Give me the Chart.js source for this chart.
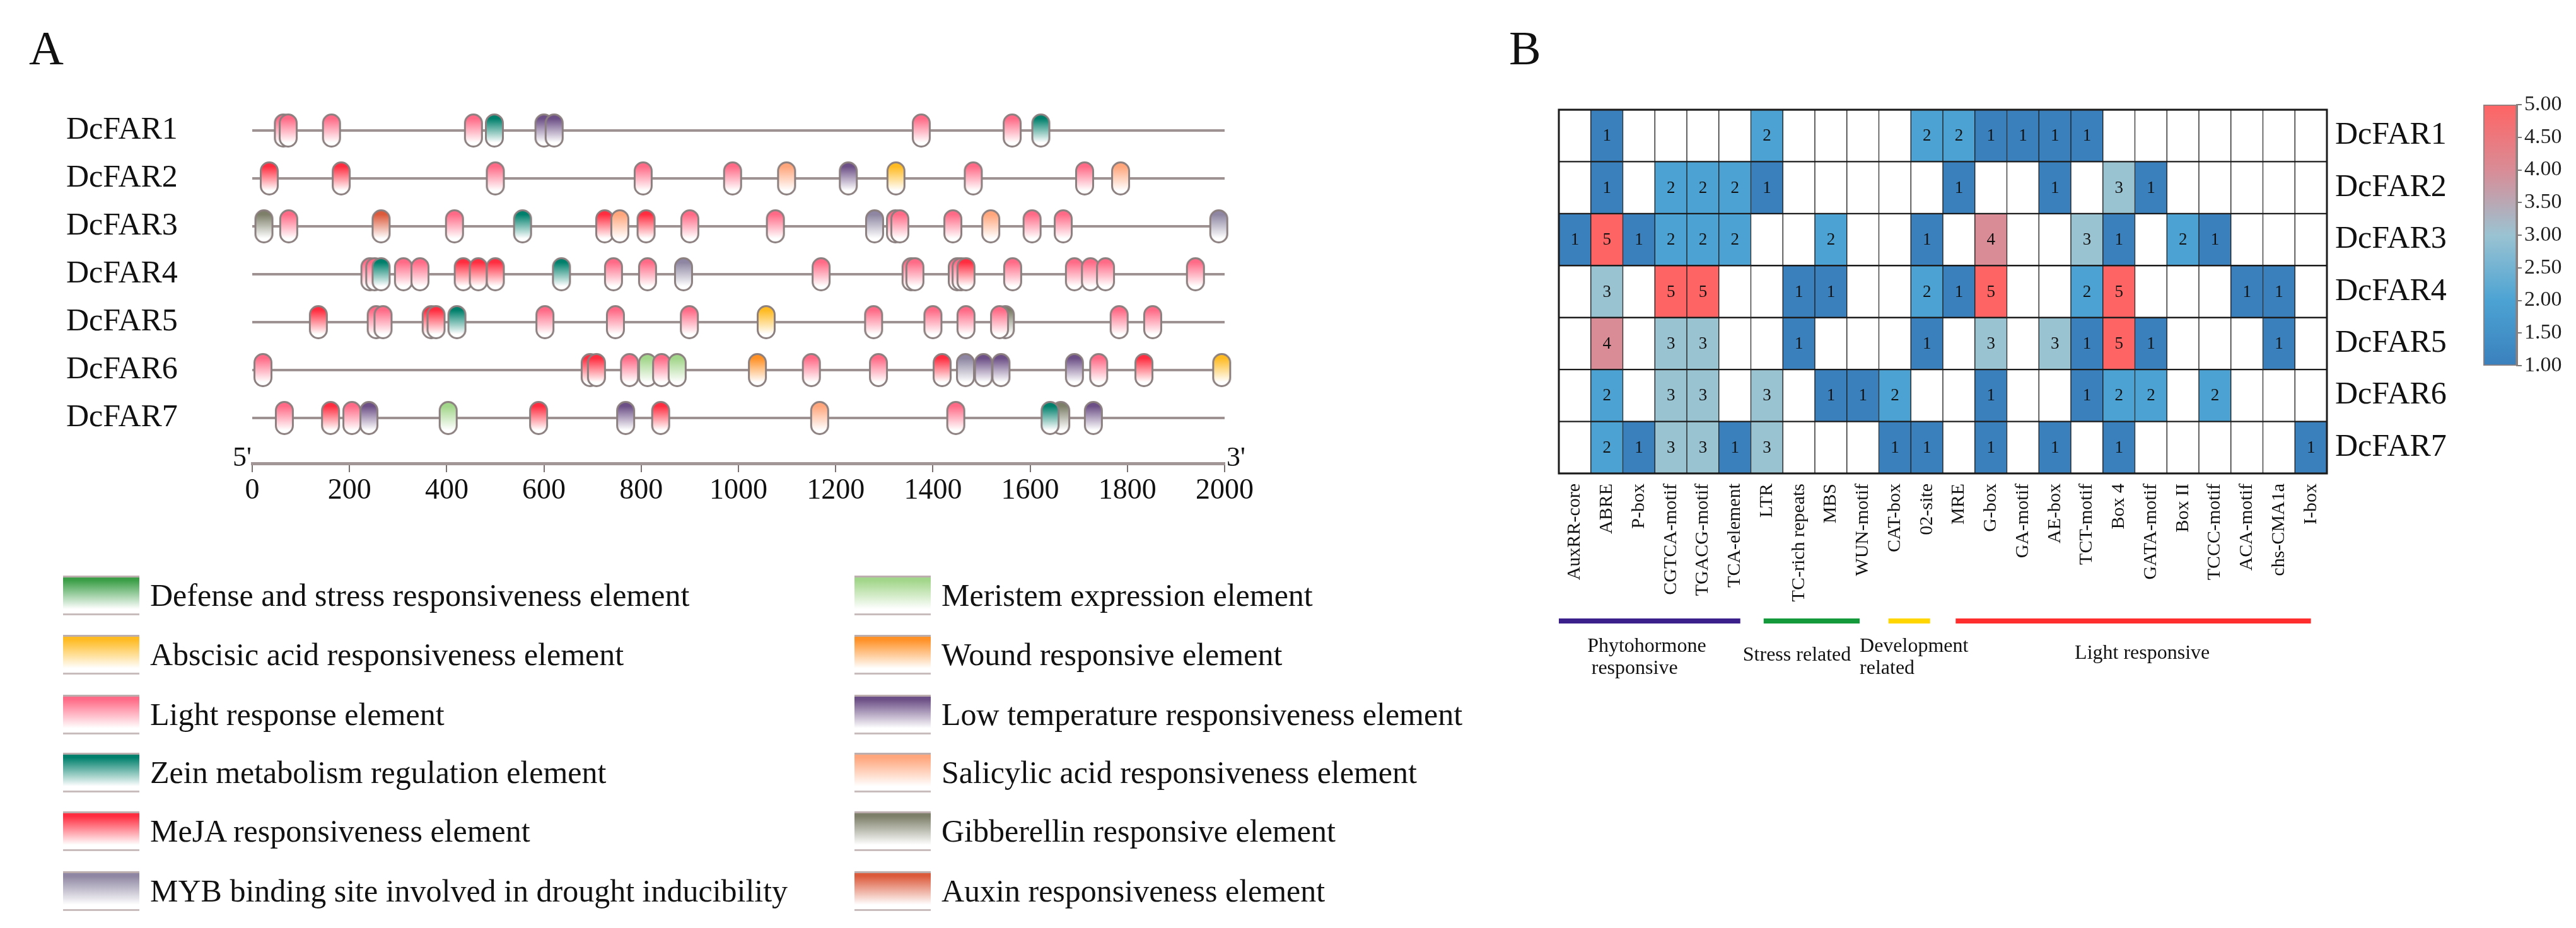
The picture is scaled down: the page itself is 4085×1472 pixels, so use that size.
<!DOCTYPE html>
<html lang="en">
<head>
<meta charset="UTF-8">
<title>DcFAR cis-elements</title>
<script src="https://cdn.jsdelivr.net/npm/chart.js@4.4.0/dist/chart.umd.min.js"></script>
<style>
  body { margin: 0; background: #fff; width: 4085px; height: 1472px; position: relative; overflow: hidden; font-family: 'Liberation Serif', serif; color: #111; }
  canvas { position: absolute; }
  .panel { position: absolute; font-size: 76px; line-height: 76px; }
  .sw { position: absolute; width: 121px; height: 57px; border-top: 3px solid #bcaeae; border-bottom: 3px solid #c8bcbc; }
  .lt { position: absolute; font-size: 50px; line-height: 63px; white-space: nowrap; }
</style>
</head>
<body>
<div class="panel" style="left:46px;top:38px">A</div>
<div class="panel" style="left:2393px;top:38px">B</div>
<canvas id="elements" width="2060" height="830" style="left:0;top:0"></canvas>
<canvas id="heat" width="1600" height="1100" style="left:2300px;top:0"></canvas>
<canvas id="scale" width="185" height="500" style="left:3900px;top:130px"></canvas>
<div id="legend"></div>

<script>
// genes and element positions (bp from 5' end) with element type
const genes = ['DcFAR1', 'DcFAR2', 'DcFAR3', 'DcFAR4', 'DcFAR5', 'DcFAR6', 'DcFAR7'];

const posFAR1 = [64, 74, 163, 455, 498, 600, 621, 1376, 1563, 1622];
const typFAR1 = ['L', 'L', 'L', 'L', 'Z', 'LT', 'LT', 'L', 'L', 'Z'];
const posFAR2 = [35, 183, 500, 804, 988, 1099, 1226, 1324, 1483, 1712, 1786];
const typFAR2 = ['M', 'M', 'L', 'L', 'L', 'SA', 'LT', 'ABA', 'L', 'L', 'SA'];
const posFAR3 = [24, 75, 265, 416, 556, 725, 756, 810, 900, 1076, 1280, 1323, 1332, 1441, 1519, 1604, 1668, 1988];
const typFAR3 = ['GA', 'L', 'AUX', 'L', 'Z', 'M', 'SA', 'M', 'L', 'L', 'MYB', 'L', 'L', 'L', 'SA', 'L', 'L', 'MYB'];
const posFAR4 = [242, 252, 265, 311, 345, 434, 465, 500, 636, 743, 813, 887, 1170, 1355, 1363, 1450, 1458, 1468, 1564, 1691, 1724, 1755, 1940];
const typFAR4 = ['L', 'L', 'Z', 'L', 'L', 'M', 'M', 'M', 'Z', 'L', 'L', 'MYB', 'L', 'L', 'L', 'L', 'L', 'M', 'L', 'L', 'L', 'L', 'L'];
const posFAR5 = [136, 255, 269, 368, 378, 421, 602, 747, 899, 1057, 1278, 1400, 1468, 1549, 1537, 1783, 1852];
const typFAR5 = ['M', 'L', 'L', 'M', 'M', 'Z', 'L', 'L', 'L', 'ABA', 'L', 'L', 'L', 'GA', 'L', 'L', 'L'];
const posFAR6 = [22, 695, 708, 776, 813, 842, 874, 1039, 1150, 1288, 1419, 1467, 1504, 1540, 1691, 1741, 1834, 1994];
const typFAR6 = ['L', 'M', 'M', 'L', 'MER', 'L', 'MER', 'W', 'L', 'L', 'M', 'MYB', 'LT', 'LT', 'LT', 'L', 'M', 'ABA'];
const posFAR7 = [66, 161, 205, 240, 403, 589, 768, 840, 1167, 1447, 1663, 1641, 1730];
const typFAR7 = ['L', 'M', 'L', 'LT', 'MER', 'M', 'LT', 'M', 'SA', 'L', 'GA', 'Z', 'LT'];

const positions = [posFAR1, posFAR2, posFAR3, posFAR4, posFAR5, posFAR6, posFAR7];
const types = [typFAR1, typFAR2, typFAR3, typFAR4, typFAR5, typFAR6, typFAR7];

// heatmap: number of each motif per gene
const motifs = ['AuxRR-core', 'ABRE', 'P-box', 'CGTCA-motif', 'TGACG-motif', 'TCA-element', 'LTR',
  'TC-rich repeats', 'MBS', 'WUN-motif', 'CAT-box', '02-site', 'MRE', 'G-box', 'GA-motif', 'AE-box',
  'TCT-motif', 'Box 4', 'GATA-motif', 'Box II', 'TCCC-motif', 'ACA-motif', 'chs-CMA1a', 'I-box'];
const cntFAR1 = [0, 1, 0, 0, 0, 0, 2, 0, 0, 0, 0, 2, 2, 1, 1, 1, 1, 0, 0, 0, 0, 0, 0, 0];
const cntFAR2 = [0, 1, 0, 2, 2, 2, 1, 0, 0, 0, 0, 0, 1, 0, 0, 1, 0, 3, 1, 0, 0, 0, 0, 0];
const cntFAR3 = [1, 5, 1, 2, 2, 2, 0, 0, 2, 0, 0, 1, 0, 4, 0, 0, 3, 1, 0, 2, 1, 0, 0, 0];
const cntFAR4 = [0, 3, 0, 5, 5, 0, 0, 1, 1, 0, 0, 2, 1, 5, 0, 0, 2, 5, 0, 0, 0, 1, 1, 0];
const cntFAR5 = [0, 4, 0, 3, 3, 0, 0, 1, 0, 0, 0, 1, 0, 3, 0, 3, 1, 5, 1, 0, 0, 0, 1, 0];
const cntFAR6 = [0, 2, 0, 3, 3, 0, 3, 0, 1, 1, 2, 0, 0, 1, 0, 0, 1, 2, 2, 0, 2, 0, 0, 0];
const cntFAR7 = [0, 2, 1, 3, 3, 1, 3, 0, 0, 0, 1, 1, 0, 1, 0, 1, 0, 1, 0, 0, 0, 0, 0, 1];
const counts = [cntFAR1, cntFAR2, cntFAR3, cntFAR4, cntFAR5, cntFAR6, cntFAR7];

// legend
const legendKeys = ['D', 'ABA', 'L', 'Z', 'M', 'MYB', 'MER', 'W', 'LT', 'SA', 'GA', 'AUX'];
const legendNames = ['Defense and stress responsiveness element', 'Abscisic acid responsiveness element',
  'Light response element', 'Zein metabolism regulation element', 'MeJA responsiveness element',
  'MYB binding site involved in drought inducibility', 'Meristem expression element',
  'Wound responsive element', 'Low temperature responsiveness element',
  'Salicylic acid responsiveness element', 'Gibberellin responsive element', 'Auxin responsiveness element'];

const typeColors = {
  D: '#3c9f48', ABA: '#ffbb22', L: '#ff6b87', Z: '#00806c', M: '#ff2d40', MYB: '#8e86a2',
  MER: '#a2d68a', W: '#ff9126', LT: '#6c4f86', SA: '#ffa67c', GA: '#7d7f69', AUX: '#dc5a3c'
};

const font = 'Liberation Serif';

// pill shaped marker for each element type
function makePill(color) {
  const c = document.createElement('canvas');
  c.width = 32; c.height = 56;
  const g = c.getContext('2d');
  const grad = g.createLinearGradient(0, 3, 0, 53);
  grad.addColorStop(0, color);
  grad.addColorStop(0.12, color);
  grad.addColorStop(0.88, '#ffffff');
  g.beginPath();
  g.roundRect(2.5, 2.5, 27, 51, 13.5);
  g.fillStyle = grad;
  g.fill();
  g.lineWidth = 3;
  g.strokeStyle = '#8b7f7f';
  g.stroke();
  return c;
}
const pills = {};
Object.keys(typeColors).forEach(k => pills[k] = makePill(typeColors[k]));

// legend (html)
const legendBox = document.getElementById('legend');
const legendRows = [944, 1038, 1133, 1225, 1318, 1413];
legendKeys.forEach((k, i) => {
  const col = i < 6 ? 0 : 1;
  const top = legendRows[i % 6] - 31;
  const sw = document.createElement('div');
  sw.className = 'sw';
  sw.style.left = (col ? 1355 : 100) + 'px';
  sw.style.top = top + 'px';
  sw.style.background = 'linear-gradient(to bottom, ' + typeColors[k] + ' 0%, ' + typeColors[k] + ' 8%, #ffffff 88%)';
  legendBox.appendChild(sw);
  const t = document.createElement('div');
  t.className = 'lt';
  t.style.left = (col ? 1493 : 238) + 'px';
  t.style.top = top + 'px';
  t.textContent = legendNames[i];
  legendBox.appendChild(t);
});

// ---------- panel A ----------
const pillSets = genes.map((g, i) => ({
  type: 'scatter',
  data: positions[i].map(p => ({ x: p, y: i + 1 })),
  pointStyle: ctx => pills[types[i][ctx.dataIndex]],
  pointRadius: 14,
  clip: false,
  order: 1
}));
const lineSets = genes.map((g, i) => ({
  type: 'line',
  data: [{ x: 0, y: i + 1 }, { x: 2000, y: i + 1 }],
  borderColor: '#9f9292',
  borderWidth: 4,
  pointRadius: 0,
  order: 2
}));

const primeLabels = {
  id: 'primeLabels',
  afterDraw(chart) {
    const { ctx, scales: { x }, chartArea } = chart;
    ctx.save();
    ctx.font = '44px ' + font;
    ctx.fillStyle = '#111';
    ctx.textBaseline = 'middle';
    ctx.textAlign = 'right';
    ctx.fillText("5'", x.getPixelForValue(0) - 1, chartArea.bottom - 8);
    ctx.textAlign = 'left';
    ctx.fillText("3'", x.getPixelForValue(2000) + 3, chartArea.bottom - 8);
    ctx.restore();
  }
};

new Chart(document.getElementById('elements'), {
  type: 'scatter',
  data: { datasets: [...pillSets, ...lineSets] },
  options: {
    responsive: false, animation: false, devicePixelRatio: 1, events: [],
    layout: { padding: { left: 105, top: 150, right: 118, bottom: 0 } },
    plugins: { legend: { display: false }, tooltip: { enabled: false } },
    scales: {
      x: {
        type: 'linear', min: 0, max: 2000,
        afterFit: s => { s.height = 95; },
        ticks: { stepSize: 200, callback: v => String(v), font: { family: font, size: 46 }, color: '#111', padding: 2 },
        grid: { drawOnChartArea: false, drawTicks: true, tickLength: 14, color: '#7d7272', lineWidth: 2 },
        border: { display: true, color: '#a39696', width: 5 }
      },
      y: {
        type: 'linear', min: 0.25, max: 7.947, reverse: true,
        afterFit: s => { s.width = 295; },
        afterBuildTicks: s => { s.ticks = genes.map((g, i) => ({ value: i + 1 })); },
        ticks: { callback: v => genes[Math.round(v) - 1], font: { family: font, size: 50 }, color: '#111', crossAlign: 'far', padding: 0 },
        grid: { display: false },
        border: { display: false }
      }
    }
  },
  plugins: [primeLabels]
});

// ---------- panel B heatmap ----------
const stops = [[1, [58, 128, 189]], [2, [76, 163, 211]], [3, [154, 195, 210]], [4, [217, 140, 150]], [5, [255, 100, 100]]];
function heatColor(v) {
  if (!v) return '#ffffff';
  for (let i = 0; i < stops.length - 1; i++) {
    const [a, ca] = stops[i], [b, cb] = stops[i + 1];
    if (v <= b) {
      const t = (v - a) / (b - a);
      const c = ca.map((x, k) => Math.round(x + (cb[k] - x) * t));
      return 'rgb(' + c.join(',') + ')';
    }
  }
  return 'rgb(255,100,100)';
}

const heatSets = genes.map((g, i) => ({
  label: g,
  data: motifs.map(() => [i, i + 1]),
  backgroundColor: counts[i].map(heatColor),
  borderColor: '#1b1b1b',
  borderWidth: { top: 1.5, bottom: 1.5, left: 1, right: 1 },
  borderSkipped: false,
  grouped: false,
  barPercentage: 1,
  categoryPercentage: 1
}));

const heatText = {
  id: 'heatText',
  afterDatasetsDraw(chart) {
    const { ctx, chartArea } = chart;
    ctx.save();
    ctx.font = '27px ' + font;
    ctx.fillStyle = '#111';
    ctx.textAlign = 'center';
    ctx.textBaseline = 'middle';
    chart.data.datasets.forEach((d, i) => {
      chart.getDatasetMeta(i).data.forEach((bar, j) => {
        const v = counts[i][j];
        if (v) ctx.fillText(String(v), bar.x, (bar.y + bar.base) / 2 + 1);
      });
    });
    ctx.lineWidth = 3;
    ctx.strokeStyle = '#1b1b1b';
    ctx.strokeRect(chartArea.left, chartArea.top, chartArea.right - chartArea.left, chartArea.bottom - chartArea.top);

    // category groups under the motif names
    const x = chart.scales.x;
    const w = x.getPixelForValue(1) - x.getPixelForValue(0);
    const edge = f => x.getPixelForValue(0) - w / 2 + f * w;
    [[0, 5.67, '#3b1f8a'], [6.4, 9.4, '#14993b'], [10.3, 11.6, '#ffd600'], [12.4, 23.5, '#ff2e2e']].forEach(([a, b, c]) => {
      ctx.fillStyle = c;
      ctx.fillRect(edge(a), 981, edge(b) - edge(a), 8);
    });
    ctx.font = '32px ' + font;
    ctx.fillStyle = '#111';
    ctx.textAlign = 'left';
    [['Phytohormone', 0.89, 1026], ['responsive', 1.02, 1061], ['Stress related', 5.75, 1040],
     ['Development', 9.4, 1026], ['related', 9.4, 1061], ['Light responsive', 16.12, 1037]].forEach(([t, f, y]) => {
      ctx.fillText(t, edge(f), y);
    });
    ctx.restore();
  }
};

new Chart(document.getElementById('heat'), {
  type: 'bar',
  data: { labels: motifs, datasets: heatSets },
  options: {
    responsive: false, animation: false, devicePixelRatio: 1, events: [],
    layout: { padding: { left: 172, top: 174, right: 0, bottom: 0 } },
    plugins: { legend: { display: false }, tooltip: { enabled: false } },
    scales: {
      x: {
        afterFit: s => { s.height = 349; },
        ticks: { minRotation: 90, maxRotation: 90, autoSkip: false, padding: 16, font: { family: font, size: 30 }, color: '#111' },
        grid: { display: false, drawTicks: false },
        border: { display: false }
      },
      y: {
        position: 'right', min: 0, max: 7, reverse: true,
        afterFit: s => { s.width = 210; },
        afterBuildTicks: s => { s.ticks = genes.map((g, i) => ({ value: i + 0.5 })); },
        ticks: { callback: v => genes[Math.floor(v)], font: { family: font, size: 50 }, color: '#111', padding: 13 },
        grid: { display: false, drawTicks: false },
        border: { display: false }
      }
    }
  },
  plugins: [heatText]
});

// ---------- colour scale ----------
new Chart(document.getElementById('scale'), {
  type: 'bar',
  data: {
    labels: [''],
    datasets: [{
      data: [[1, 5]],
      backgroundColor: ctx => {
        const a = ctx.chart.chartArea;
        if (!a) return '#ffffff';
        const g = ctx.chart.ctx.createLinearGradient(0, a.bottom, 0, a.top);
        stops.forEach(([v]) => g.addColorStop((v - 1) / 4, heatColor(v)));
        return g;
      },
      borderColor: '#8a8080',
      borderWidth: 2,
      borderSkipped: false,
      barPercentage: 1,
      categoryPercentage: 1
    }]
  },
  options: {
    responsive: false, animation: false, devicePixelRatio: 1, events: [],
    layout: { padding: { left: 38, top: 36, right: 0, bottom: 50 } },
    plugins: { legend: { display: false }, tooltip: { enabled: false } },
    scales: {
      x: { display: false },
      y: {
        position: 'right', min: 1, max: 5,
        afterFit: s => { s.width = 94; },
        ticks: { stepSize: 0.5, callback: v => v.toFixed(2), font: { family: font, size: 34 }, color: '#222', padding: 4 },
        grid: { drawOnChartArea: false, drawTicks: true, tickLength: 8, color: '#777', lineWidth: 2 },
        border: { display: true, color: '#8a8080', width: 3 }
      }
    }
  }
});
</script>
</body>
</html>
